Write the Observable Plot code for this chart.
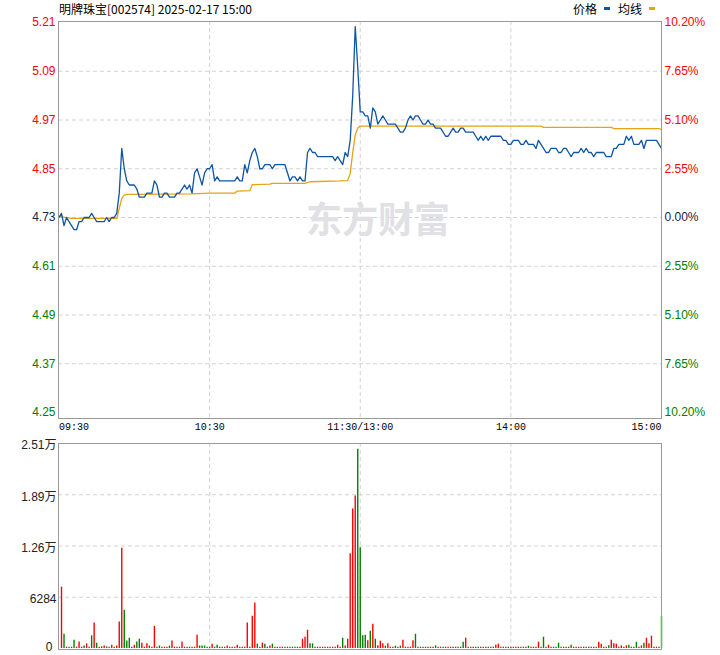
<!DOCTYPE html>
<html><head><meta charset="utf-8">
<script src="https://cdn.jsdelivr.net/npm/d3@7"></script>
<script src="https://cdn.jsdelivr.net/npm/@observablehq/plot@0.6"></script>
<style>
body{margin:0;background:#fff;}
#wrap{position:relative;width:720px;height:655px;overflow:hidden;}
#price,#vol{position:absolute;left:0;}
#price{top:0;} #vol{top:440px;}
#title{position:absolute;left:59px;top:1px;font:12px/15px "Noto Sans CJK SC",sans-serif;color:#000;white-space:nowrap;}
#legend{position:absolute;left:573px;top:1px;font:12px/15px "Noto Sans CJK SC",sans-serif;color:#000;white-space:nowrap;}
#legend i{display:inline-block;width:6px;height:3px;vertical-align:4px;margin:0 8px 0 7px;}
</style></head>
<body><div id="wrap"><div id="price"></div><div id="vol"></div>
<div id="title">明牌珠宝[002574] 2025-02-17 15:00</div>
<div id="legend">价格<i style="background:#0f55a5"></i>均线<i style="background:#e5a213"></i></div>
</div>
<script>
const preClose = 4.73;
const priceTicks = [5.21, 5.09, 4.97, 4.85, 4.73, 4.61, 4.49, 4.37, 4.25];
const pctTicks = ["10.20%", "7.65%", "5.10%", "2.55%", "0.00%", "2.55%", "5.10%", "7.65%", "10.20%"];
const timeTicks = [0, 60, 120, 180, 240];
const timeLabels = ["09:30", "10:30", "11:30/13:00", "14:00", "15:00"];
const volTicks = [0, 6284, 12568, 18852, 25136];
const volLabels = ["0", "6284", "1.26万", "1.89万", "2.51万"];

// price per minute, index 0 = 09:30 ... 120 = 11:30/13:00 ... 240 = 15:00
const price = [
4.73,4.74,4.71,4.73,4.72,4.71,4.70,4.70,4.72,4.72,
4.73,4.73,4.73,4.74,4.73,4.72,4.72,4.72,4.72,4.73,
4.72,4.73,4.73,4.74,4.79,4.90,4.85,4.82,4.81,4.81,
4.81,4.80,4.78,4.78,4.78,4.79,4.79,4.79,4.82,4.81,
4.78,4.78,4.79,4.79,4.78,4.78,4.78,4.79,4.79,4.80,
4.81,4.80,4.81,4.79,4.84,4.85,4.83,4.81,4.84,4.85,
4.85,4.86,4.82,4.83,4.82,4.82,4.82,4.82,4.82,4.82,
4.82,4.83,4.82,4.82,4.86,4.84,4.87,4.89,4.90,4.88,
4.85,4.85,4.86,4.86,4.86,4.85,4.86,4.86,4.86,4.86,
4.86,4.84,4.82,4.83,4.83,4.82,4.83,4.82,4.82,4.89,
4.90,4.89,4.89,4.88,4.88,4.88,4.88,4.88,4.88,4.88,
4.87,4.88,4.87,4.86,4.89,4.88,4.92,5.03,5.20,5.10,
4.99,4.99,4.98,4.98,4.95,5.00,4.99,4.96,4.97,4.98,
4.97,4.96,4.96,4.96,4.96,4.95,4.94,4.94,4.95,4.97,
4.98,4.97,4.98,4.98,4.97,4.96,4.96,4.97,4.96,4.96,
4.95,4.95,4.95,4.94,4.93,4.93,4.94,4.95,4.94,4.94,
4.95,4.95,4.94,4.94,4.94,4.94,4.93,4.92,4.93,4.92,
4.93,4.92,4.93,4.93,4.93,4.93,4.93,4.92,4.92,4.91,
4.91,4.92,4.92,4.92,4.91,4.91,4.92,4.91,4.91,4.91,
4.90,4.92,4.91,4.90,4.89,4.89,4.90,4.90,4.90,4.89,
4.89,4.90,4.90,4.89,4.88,4.89,4.89,4.89,4.90,4.89,
4.90,4.89,4.89,4.88,4.89,4.89,4.89,4.89,4.88,4.88,
4.88,4.90,4.90,4.91,4.91,4.91,4.93,4.92,4.93,4.91,
4.91,4.91,4.92,4.90,4.92,4.92,4.92,4.92,4.92,4.91,
4.90];

// average price line, read at its turning points
const avgMinute = [0, 5, 23, 24, 25, 26, 27, 29, 53, 60, 70, 71, 76, 77, 84, 85, 98, 100, 112, 115, 116, 117, 118, 119, 120, 192, 193, 220, 221, 239, 240];
const avgValue = [4.733, 4.728, 4.728, 4.752, 4.777, 4.785, 4.787, 4.787, 4.788, 4.790, 4.790, 4.795, 4.796, 4.811, 4.812, 4.814, 4.814, 4.818, 4.820, 4.821, 4.838, 4.890, 4.933, 4.950, 4.955, 4.955, 4.952, 4.952, 4.949, 4.949, 4.946];

// volume per minute, minute 1 (09:31) ... 240 (15:00)
const volume = [
7520,1750,160,160,160,1020,160,810,160,300,
570,160,1550,3130,650,160,200,300,200,160,
400,160,300,3250,12280,4680,930,1260,160,400,
810,1140,650,160,570,300,160,2720,160,300,
160,160,160,300,930,160,160,160,810,160,
160,160,160,160,1630,300,300,300,160,160,
530,160,400,160,160,160,300,160,160,160,
400,160,160,160,3130,160,3950,5570,530,160,
650,530,160,300,530,160,160,160,160,160,
160,160,160,160,160,160,1140,1380,2240,570,
570,160,160,160,160,160,160,160,160,160,
400,160,1260,300,1140,11630,17120,18700,24440,12360,
1550,1630,935,2115,2970,1140,325,895,570,285,
570,160,160,285,160,285,1020,160,160,160,
935,1750,160,160,160,160,160,160,160,325,
160,160,160,160,160,160,160,160,160,160,
770,1260,160,160,160,160,160,160,160,160,
160,160,160,400,530,160,160,160,160,160,
160,160,160,160,160,160,285,160,160,160,
770,160,1380,160,400,160,160,160,650,160,
160,160,160,400,160,160,160,160,160,160,
160,160,160,160,770,530,160,160,325,1020,
570,530,160,325,160,325,400,160,160,770,
160,325,650,1260,570,1500,160,160,160,3950];
const volColor =
"rgrgggrrrg"+"rrgrgrrrgr"+"rgrrrgggrr"+"ggrrrgrrgg"+"rrrgrrrrrg"+"rrgrrggggr"+
"rggrggrrrr"+"rgrrrgrrgg"+"rgrrgrgrrg"+"rggggrrrrg"+"grrrgrrrrr"+"rrgrrrrrgg"+
"ggrgrgrrrg"+"rrrgrgrrrr"+"rgrggrrgrg"+"rrgrrrrrrg"+"grgrrggrgr"+"grrrrrgrgr"+
"rrrgrrgrrr"+"rggrrrrggr"+"rgrgrrrrgr"+"grrgrrrrgr"+"rrrrrrgrgg"+"rrgrrrrrrg";

const RED = "#ff0000", GREEN = "#008000", DARK = "#222244", GRID = "#d2d2d2", FRAME = "#999999";
const PRICE_C = "#0f55a5", AVG_C = "#e5a213";

const priceData = price.map((p, i) => ({i, p}));
const avgData = avgMinute.map((m, k) => ({i: m, p: avgValue[k]}));
const tickData = priceTicks.map((v, k) => ({v, pct: pctTicks[k], c: v > preClose ? RED : v < preClose ? GREEN : DARK}));
const timeData = timeTicks.map((t, k) => ({t, label: timeLabels[k]}));
const volData = volume.map((v, k) => ({i: k + 1, v, c: volColor[k] === "r" ? RED : GREEN}));
const volTickData = volTicks.map((v, k) => ({v, label: volLabels[k]}));
const labelFont = "Liberation Sans, Arial, sans-serif";

const pricePlot = Plot.plot({
  width: 720, height: 440,
  marginTop: 21, marginBottom: 22, marginLeft: 58, marginRight: 59,
  x: {domain: [0, 240], axis: null, insetLeft: 0.5},
  y: {domain: [4.25, 5.21], axis: null, insetTop: 1, insetBottom: 6},
  color: {type: "identity"},
  style: {background: "transparent", overflow: "visible"},
  marks: [
    Plot.ruleY(priceTicks.slice(1, -1), {stroke: GRID, strokeDasharray: "4,3"}),
    Plot.ruleX(timeTicks.slice(1, -1), {stroke: GRID, strokeDasharray: "4,3"}),
    Plot.text(["东方财富"], {text: d => d, frameAnchor: "middle", dx: 18, dy: 1, fontSize: 36, fontWeight: "bold", fill: "#e0e0e5", fontFamily: "Noto Sans CJK SC"}),
    Plot.line(avgData, {x: "i", y: "p", stroke: AVG_C, strokeWidth: 1.3}),
    Plot.line(priceData, {x: "i", y: "p", stroke: PRICE_C, strokeWidth: 1.3}),
    Plot.frame({stroke: FRAME}),
    Plot.text(tickData, {y: "v", text: d => d.v.toFixed(2), frameAnchor: "left", textAnchor: "end", dx: -3, fill: "c", fontSize: 12, fontFamily: labelFont}),
    Plot.text(tickData, {y: "v", text: "pct", frameAnchor: "right", textAnchor: "start", dx: 3, fill: "c", fontSize: 12, fontFamily: labelFont}),
    Plot.text(timeData.slice(0, 1), {x: "t", text: "label", frameAnchor: "bottom", textAnchor: "start", dy: 11, fill: "#000", fontSize: 10, fontFamily: "Liberation Mono, monospace"}),
    Plot.text(timeData.slice(1, -1), {x: "t", text: "label", frameAnchor: "bottom", textAnchor: "middle", dy: 11, fill: "#000", fontSize: 10, fontFamily: "Liberation Mono, monospace"}),
    Plot.text(timeData.slice(-1), {x: "t", text: "label", frameAnchor: "bottom", textAnchor: "end", dy: 11, fill: "#000", fontSize: 10, fontFamily: "Liberation Mono, monospace"})
  ]
});
document.getElementById("price").appendChild(pricePlot);

const volPlot = Plot.plot({
  width: 720, height: 215,
  marginTop: 3, marginBottom: 6, marginLeft: 58, marginRight: 59,
  x: {domain: [0, 240], axis: null, insetLeft: 0.5},
  y: {domain: [0, 25136], axis: null, insetBottom: 1},
  color: {type: "identity"},
  style: {background: "transparent", overflow: "visible"},
  marks: [
    Plot.ruleY(volTicks.slice(1, -1), {stroke: GRID, strokeDasharray: "4,3"}),
    Plot.ruleX(timeTicks.slice(1, -1), {stroke: GRID, strokeDasharray: "4,3"}),
    Plot.ruleX(volData, {x: "i", y1: 0, y2: "v", stroke: "c", strokeWidth: 1.4}),
    Plot.frame({stroke: FRAME}),
    Plot.text(volTickData.slice(1), {y: "v", text: "label", frameAnchor: "left", textAnchor: "end", dx: -2, dy: 2, fill: "#222", fontSize: 12, fontFamily: "Liberation Sans, Noto Sans CJK SC, sans-serif"}),
    Plot.text(volTickData.slice(0, 1), {y: "v", text: "label", frameAnchor: "left", textAnchor: "end", dx: -6, dy: -1, fill: "#222", fontSize: 12, fontFamily: "Liberation Sans, Noto Sans CJK SC, sans-serif"})
  ]
});
document.getElementById("vol").appendChild(volPlot);
</script>
</body></html>
